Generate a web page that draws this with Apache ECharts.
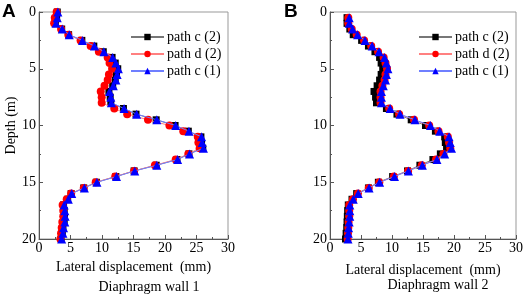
<!DOCTYPE html>
<html>
<head>
<meta charset="utf-8">
<script src="https://cdn.jsdelivr.net/npm/echarts@6/dist/echarts.min.js"></script>
<style>
  html, body { margin: 0; padding: 0; background: #fff; }
  #chart { width: 526px; height: 297px; }
</style>
</head>
<body>
<div id="chart"></div>
<script>
  // depth (m)
  var depthA = [0, 0.5, 1, 1.5, 2, 2.5, 3, 3.5, 4, 4.5, 5, 5.5, 6, 6.5, 7, 7.5, 8, 8.5, 9, 9.5, 10,
    10.5, 11, 11.5, 12, 12.5, 13, 13.5, 14, 14.5, 15, 15.5, 16, 16.5, 17, 17.5, 18, 18.5, 19, 19.5, 20];
  var depthB = [0.5, 1, 1.5, 2, 2.5, 3, 3.5, 4, 4.5, 5, 5.5, 6, 6.5, 7, 7.5, 8, 8.5, 9, 9.5, 10,
    10.5, 11, 11.5, 12, 12.5, 13, 13.5, 14, 14.5, 15, 15.5, 16, 16.5, 17, 17.5, 18, 18.5, 19, 19.5, 20];

  // Diaphragm wall 1, lateral displacement (mm)
  var wall1C2 = [2.9, 2.8, 2.6, 3.6, 4.7, 6.8, 8.7, 10.2, 11.6, 12.1, 12.5, 12.3, 12.1, 11.7, 11.1, 11.3, 11.4,
    13.4, 15.4, 18.6, 21.6, 23.7, 25.7, 25.8, 26.0, 23.8, 21.9, 18.6, 15.1, 12.2, 9.1, 7.1, 5.1, 4.55,
    3.9, 4.0, 4.05, 4.0, 3.8, 3.7, 3.5];
  var wall1D2 = [2.8, 2.5, 2.4, 3.5, 4.65, 6.6, 8.2, 9.5, 10.9, 11.2, 11.6, 11.1, 10.9, 10.4, 9.8, 9.95, 9.95,
    11.95, 14.0, 17.3, 20.7, 22.9, 25.2, 25.3, 25.5, 23.7, 21.7, 18.4, 15.1, 12.1, 9.0, 7.1, 5.1, 4.4,
    3.75, 3.85, 3.85, 3.7, 3.6, 3.5, 3.4];
  var wall1C1 = [3.0, 2.9, 2.7, 3.7, 4.8, 6.9, 8.8, 10.3, 11.7, 12.2, 12.6, 12.4, 12.2, 11.8, 11.2, 11.4, 11.5,
    13.5, 15.5, 18.7, 21.7, 23.8, 25.8, 25.9, 26.1, 23.9, 22.0, 18.7, 15.2, 12.3, 9.2, 7.2, 5.2, 4.65,
    4.0, 4.1, 4.15, 4.1, 3.9, 3.8, 3.6];

  // Diaphragm wall 2, lateral displacement (mm)
  var wall2C2 = [2.75, 2.75, 3.2, 3.75, 5.1, 6.2, 7.25, 8.0, 8.25, 8.5, 8.25, 8.0, 7.6, 7.1, 7.35, 7.5,
    9.1, 10.8, 13.1, 15.4, 17.0, 18.5, 18.6, 18.8, 17.8, 16.6, 14.5, 12.5, 10.1, 7.8, 6.2, 4.3, 3.55,
    2.95, 2.85, 2.8, 2.75, 2.7, 2.6, 2.5];
  var wall2D2 = [2.95, 2.95, 3.5, 4.3, 5.5, 6.65, 7.75, 8.65, 8.95, 9.2, 8.95, 8.8, 8.45, 8.15, 8.15, 8.15,
    9.55, 11.15, 13.55, 16.0, 17.5, 19.0, 19.2, 19.4, 18.3, 17.1, 14.8, 12.6, 10.3, 7.95, 6.25, 4.5, 3.7,
    3.1, 3.1, 3.1, 3.0, 2.95, 2.9, 2.85];
  var wall2C1 = [3.1, 3.1, 3.65, 4.45, 5.65, 6.8, 7.9, 8.8, 9.1, 9.35, 9.1, 8.95, 8.6, 8.3, 8.3, 8.3,
    9.7, 11.3, 13.7, 16.2, 17.7, 19.2, 19.4, 19.6, 18.5, 17.25, 14.9, 12.65, 10.4, 8.0, 6.3, 4.55, 3.75,
    3.2, 3.2, 3.2, 3.1, 3.0, 2.95, 2.9];

  var seriesNames = ['path c (2)', 'path d (2)', 'path c (1)'];
  var xTicks = [0, 30, 5];   // min, max, interval
  var yTicks = [0, 20, 5];

  var serif = '"Liberation Serif", "Times New Roman", serif';

  function pairs(xs, ds) {
    return xs.map(function (v, i) { return [v, ds[i]]; });
  }

  var styles = [
    { symbol: 'rect', size: 7, color: '#000', line: '#777' },
    { symbol: 'circle', size: 8, color: '#ff0000', line: '#ff8080' },
    { symbol: 'triangle', size: 9, color: '#0000ff', line: '#6f7fff' }
  ];

  function mkSeries(idx, vals, ds, i) {
    var s = styles[i];
    return {
      name: seriesNames[i],
      type: 'line',
      xAxisIndex: idx,
      yAxisIndex: idx,
      data: pairs(vals, ds),
      symbol: s.symbol,
      symbolSize: s.size,
      showAllSymbol: true,
      itemStyle: { color: s.color },
      lineStyle: { color: s.line, width: 1 },
      z: 2 + i
    };
  }

  function xAxis(idx) {
    return {
      gridIndex: idx,
      type: 'value',
      min: xTicks[0], max: xTicks[1], interval: xTicks[2],
      name: 'Lateral displacement  (mm)',
      nameLocation: 'middle',
      nameGap: idx === 0 ? 21 : 24,
      nameTextStyle: { fontFamily: serif, fontSize: 14, color: '#000' },
      axisLine: { show: true, onZero: false, lineStyle: { color: '#555' } },
      axisTick: { show: true, inside: true, length: 4, lineStyle: { color: '#555' } },
      minorTick: { show: true, splitNumber: 2, length: 2, lineStyle: { color: '#555' } },
      axisLabel: { fontFamily: serif, fontSize: 14, color: '#000', margin: 2 },
      splitLine: { show: false }
    };
  }

  function yAxis(idx) {
    return {
      gridIndex: idx,
      type: 'value',
      inverse: true,
      min: yTicks[0], max: yTicks[1], interval: yTicks[2],
      name: idx === 0 ? 'Depth (m)' : '',
      nameLocation: 'middle',
      nameGap: 21,
      nameTextStyle: { fontFamily: serif, fontSize: 14, color: '#000' },
      axisLine: { show: true, onZero: false, lineStyle: { color: '#555' } },
      axisTick: { show: true, inside: true, length: 4, lineStyle: { color: '#555' } },
      minorTick: { show: true, splitNumber: 2, length: 2, lineStyle: { color: '#555' } },
      axisLabel: { fontFamily: serif, fontSize: 14, color: '#000', margin: 3 },
      splitLine: { show: false }
    };
  }

  function legend(left) {
    return {
      data: seriesNames,
      orient: 'vertical',
      left: left,
      top: 25,
      itemWidth: 33,
      itemHeight: 8,
      itemGap: 3,
      selectedMode: false,
      textStyle: { fontFamily: serif, fontSize: 14, color: '#000', padding: [0, 0, 0, -2] }
    };
  }

  var chart = echarts.init(document.getElementById('chart'));
  chart.setOption({
    animation: false,
    backgroundColor: '#fff',
    grid: [
      { left: 39, top: 12, width: 189, height: 227, show: true, borderColor: '#999', borderWidth: 1 },
      { left: 330, top: 12, width: 189, height: 227, show: true, borderColor: '#999', borderWidth: 1 }
    ],
    legend: [legend(125), legend(413)],
    xAxis: [xAxis(0), xAxis(1)],
    yAxis: [yAxis(0), yAxis(1)],
    series: [
      mkSeries(0, wall1C2, depthA, 0),
      mkSeries(0, wall1D2, depthA, 1),
      mkSeries(0, wall1C1, depthA, 2),
      mkSeries(1, wall2C2, depthB, 0),
      mkSeries(1, wall2D2, depthB, 1),
      mkSeries(1, wall2C1, depthB, 2)
    ],
    graphic: [
      { type: 'text', left: 2, top: 2, style: { text: 'A', font: 'bold 19px "Liberation Sans", Arial, sans-serif', fill: '#000' } },
      { type: 'text', left: 284, top: 2, style: { text: 'B', font: 'bold 19px "Liberation Sans", Arial, sans-serif', fill: '#000' } },
      { type: 'text', x: 149, y: 287, style: { text: 'Diaphragm wall 1', font: '14px ' + serif, fill: '#000', align: 'center', verticalAlign: 'middle' } },
      { type: 'text', x: 438, y: 285, style: { text: 'Diaphragm wall 2', font: '14px ' + serif, fill: '#000', align: 'center', verticalAlign: 'middle' } }
    ]
  });
</script>
</body>
</html>
